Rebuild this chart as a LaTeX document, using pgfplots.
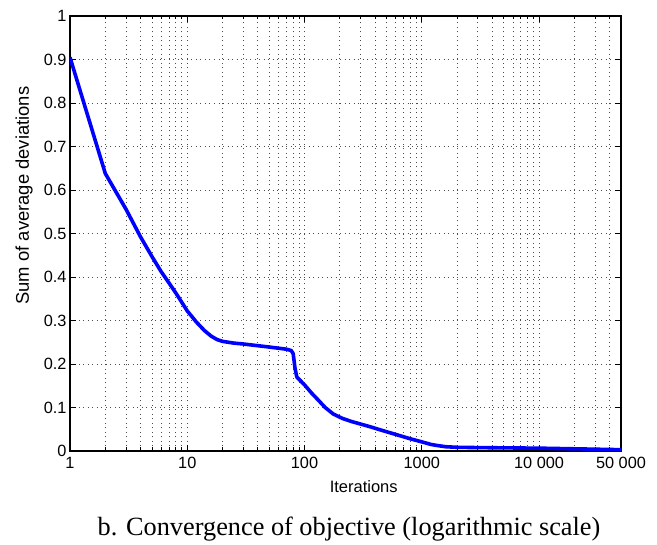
\documentclass[border=0pt]{standalone}
\usepackage{fontspec}
\setmainfont{Liberation Serif}
\setsansfont{Liberation Sans}
\usepackage{pgfplots}
\pgfplotsset{compat=1.18}
\begin{document}
\begin{tikzpicture}
\begin{semilogxaxis}[
  name=ax,
  scale only axis,
  width=551pt, height=435pt,
  xmin=1, xmax=50000, ymin=0, ymax=1,
  xtick={1,10,100,1000,10000,50000},
  xticklabels={1,10,100,1000,10~000,50~000},
  minor xtick={2,3,4,5,6,7,8,9,20,30,40,50,60,70,80,90,200,300,400,500,600,700,800,900,2000,3000,4000,5000,6000,7000,8000,9000,20000,30000,40000},
  ytick={0,0.1,0.2,0.3,0.4,0.5,0.6,0.7,0.8,0.9,1},
  yticklabels={0,0.1,0.2,0.3,0.4,0.5,0.6,0.7,0.8,0.9,1},
  tick align=inside,
  major tick length=6pt, minor tick length=3.5pt,
  every tick/.style={black, line width=0.8pt},
  grid=both,
  major grid style={black!70, line width=0.8pt, dash pattern=on 1pt off 3.5pt},
  minor grid style={black!70, line width=0.8pt, dash pattern=on 1pt off 3.5pt},
  axis line style={black, line width=1.3pt},
  ticklabel style={font=\fontsize{16.3}{19}\selectfont\sffamily},
  xticklabel style={yshift=-3pt},
  /pgf/number format/assume math mode=true,
  xlabel={Iterations},
  ylabel={Sum of average deviations},
  xlabel style={font=\fontsize{16.5}{19}\selectfont\sffamily, at={(axis description cs:0.533,0)}, anchor=base, yshift=-42pt},
  ylabel style={font=\fontsize{18.4}{21}\selectfont\sffamily, at={(axis description cs:-0.0835,0.587)}, anchor=center},
]
\addplot[blue, line width=3.6pt, line join=round] coordinates {
(1,0.905) (2,0.638) (3,0.556) (4,0.492) (5,0.447) (6,0.412) (7,0.386) (8,0.363)
(10,0.322) (12,0.296) (14,0.277) (16,0.264) (18,0.256) (20,0.252) (25,0.248) (30,0.246)
(50,0.239) (70,0.234) (77,0.231) (80,0.224) (83,0.19) (86,0.17) (100,0.152)
(115,0.133) (130,0.118) (150,0.1) (176,0.085) (210,0.075) (250,0.068) (300,0.062)
(360,0.056) (450,0.048) (600,0.038) (800,0.028) (1000,0.021) (1200,0.015)
(1400,0.012) (1600,0.0098) (2000,0.0085) (3000,0.0078) (5000,0.0072)
(10000,0.0065) (20000,0.005) (50000,0.003)
};
\end{semilogxaxis}
\path (ax.south west) ++(-70pt,-90pt) rectangle ++(657pt,541pt);
\node[anchor=base, font=\fontsize{26.3}{30}\selectfont\rmfamily] at ([xshift=279pt,yshift=-84.7pt]ax.south west) {b. Convergence of objective (logarithmic scale)};
\end{tikzpicture}
\end{document}
